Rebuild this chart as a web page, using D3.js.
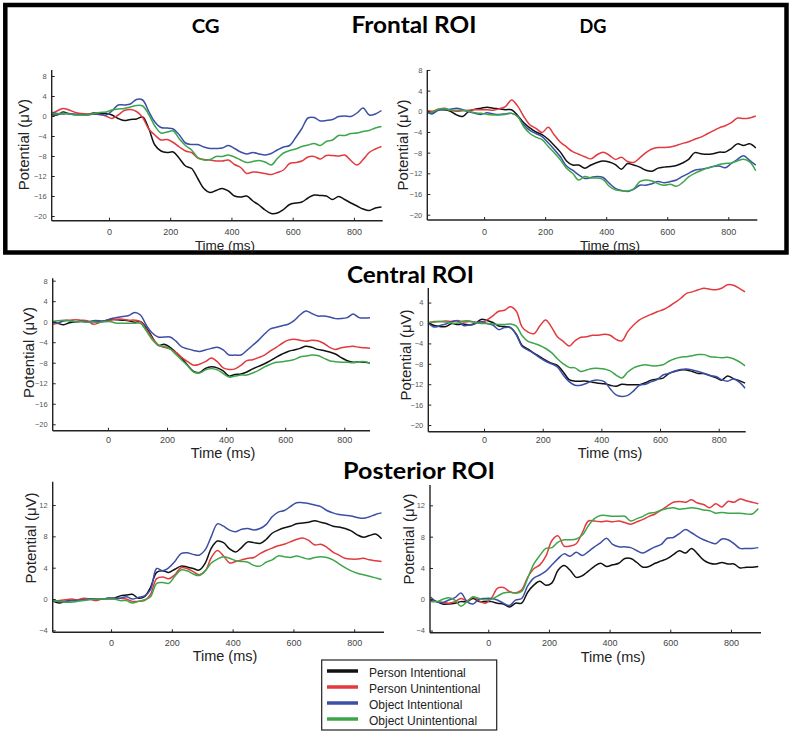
<!DOCTYPE html>
<html><head><meta charset="utf-8">
<script src="https://cdn.jsdelivr.net/npm/d3@7"></script>
<style>body{margin:0;background:#fff}svg{display:block}</style>
</head><body><svg id="c" width="795" height="735"></svg>
<script>
// ---------- DATA ----------
const times = [-190,-170,-150,-130,-110,-90,-70,-50,-30,-10,
  10,30,50,70,90,110,130,150,170,190,
  210,230,250,270,290,310,330,350,370,390,
  410,430,450,470,490,510,530,550,570,590,
  610,630,650,670,690,710,730,750,770,790,
  810,830,850,870,890];
const conditions = ["Person Intentional","Person Unintentional","Object Intentional","Object Unintentional"];
const xTicks = [0,200,400,600,800];
const yTicksNeg = [-20,-16,-12,-8,-4,0,4,8];
const yTicksNegShort = [-20,-16,-12,-8,-4,0,4];
const yTicksPos = [-4,0,4,8,12];
const roiTitles = ["Frontal ROI","Central ROI","Posterior ROI"];
const groupTitles = ["CG","DG"];

// Frontal ROI, CG
const frontalCG_PI = [0.3,0.2,0.8,0.4,0.3,0.3,0.3,0.6,0.5,0.5,
  0.2,-0.5,-0.9,-0.7,-0.6,-0.2,-2.5,-5.8,-7.0,-7.3,
  -7.2,-8.5,-10.0,-10.5,-12.5,-14.5,-15.3,-14.9,-14.5,-15.0,
  -16.0,-16.2,-16.0,-17.0,-17.8,-18.8,-19.5,-19.4,-18.7,-17.7,
  -17.4,-17.2,-16.4,-15.8,-15.9,-16.0,-16.7,-16.1,-16.7,-17.4,
  -18.0,-18.6,-18.9,-18.4,-18.2];
const frontalCG_PU = [0.3,1.0,1.5,1.2,0.7,0.5,0.4,0.4,0.3,0.0,
  -0.5,0.2,1.1,1.3,0.9,-0.3,-2.6,-3.8,-4.8,-4.7,
  -5.3,-6.2,-7.0,-7.3,-8.4,-8.7,-8.8,-9.0,-9.0,-8.8,
  -9.7,-10.3,-11.5,-11.2,-11.3,-11.5,-11.7,-11.3,-10.8,-9.5,
  -9.3,-9.0,-8.2,-8.1,-8.6,-7.9,-7.9,-8.0,-7.8,-8.9,
  -9.8,-8.7,-7.3,-6.6,-6.1];
const frontalCG_OI = [0.8,0.5,0.4,0.5,0.3,0.3,0.2,0.4,0.3,0.2,
  1.0,2.2,2.2,2.4,3.3,3.2,0.9,-1.2,-2.3,-2.4,
  -2.6,-3.8,-5.4,-5.7,-5.7,-6.2,-6.5,-6.5,-6.4,-5.9,
  -6.5,-7.2,-7.6,-7.3,-7.6,-7.8,-7.5,-6.8,-6.2,-5.9,
  -4.3,-2.5,-0.4,-0.3,-1.0,-0.9,-0.7,-0.1,0.0,-0.1,
  0.6,1.6,0.2,0.4,1.1];
const frontalCG_OU = [0.5,0.4,0.6,0.4,0.2,0.2,0.2,0.5,0.7,0.8,
  1.2,1.4,1.5,1.8,2.1,2.0,0.3,-2.0,-3.4,-3.2,
  -3.0,-4.6,-5.9,-6.8,-8.3,-8.8,-8.7,-8.1,-8.1,-7.8,
  -8.2,-8.8,-9.3,-9.1,-8.9,-9.2,-9.8,-8.5,-7.4,-6.9,
  -6.6,-6.1,-5.8,-5.5,-5.9,-5.1,-4.8,-3.9,-3.9,-3.5,
  -3.4,-3.1,-2.9,-2.4,-2.1];

// Frontal ROI, DG
const frontalDG_PI = [-0.1,-0.3,0.3,0.3,0.0,-0.7,-1.0,0.0,0.4,0.6,
  0.8,0.6,0.5,0.3,0.3,-0.8,-2.2,-3.2,-4.0,-4.5,
  -5.4,-6.6,-7.9,-9.6,-10.4,-10.4,-11.0,-10.4,-9.9,-9.6,
  -9.8,-10.3,-11.2,-10.1,-10.4,-10.8,-11.4,-11.6,-11.0,-10.8,
  -10.7,-10.5,-10.0,-9.3,-8.0,-8.2,-8.3,-8.2,-7.9,-7.9,
  -7.2,-6.3,-6.6,-6.3,-7.1];
const frontalDG_PU = [0.2,0.0,0.4,0.6,0.2,0.0,0.1,0.2,0.3,0.3,
  0.3,0.2,0.5,0.9,2.2,1.0,-1.0,-2.6,-3.3,-4.1,
  -3.1,-4.6,-6.0,-6.9,-7.8,-8.3,-8.8,-9.2,-8.4,-7.9,
  -8.5,-9.3,-8.9,-9.7,-9.9,-9.0,-8.0,-7.3,-7.0,-7.0,
  -6.9,-6.6,-6.2,-5.9,-5.4,-5.0,-4.4,-3.8,-3.2,-2.8,
  -2.2,-1.3,-1.4,-1.3,-0.9];
const frontalDG_OI = [0.0,-0.5,0.2,0.3,0.4,0.6,0.3,-0.1,-0.4,-0.6,
  -0.3,-0.5,-0.6,-0.5,-0.4,-1.0,-2.6,-3.7,-4.3,-4.9,
  -6.1,-7.4,-8.8,-10.6,-11.4,-12.3,-13.0,-12.8,-12.6,-12.8,
  -13.9,-14.9,-15.3,-15.5,-15.1,-14.3,-14.3,-14.0,-13.6,-13.8,
  -13.6,-13.3,-12.6,-12.0,-11.4,-11.2,-11.0,-10.7,-10.6,-10.9,
  -10.1,-9.3,-8.6,-9.5,-10.4];
const frontalDG_OU = [0.0,-0.2,0.4,0.5,0.2,0.2,0.2,0.0,-0.3,-0.4,
  -0.6,-0.7,-0.7,-0.6,-0.4,-1.0,-3.0,-4.3,-5.0,-5.5,
  -6.8,-8.0,-9.4,-11.0,-12.0,-13.3,-12.6,-12.9,-12.9,-13.2,
  -14.5,-15.2,-15.4,-15.4,-15.0,-13.6,-13.3,-13.5,-14.0,-14.3,
  -14.1,-14.5,-13.8,-12.7,-12.0,-11.5,-11.0,-10.7,-10.3,-10.1,
  -10.0,-9.6,-9.3,-9.8,-11.5];

// Central ROI, CG
const centralCG_PI = [0.0,-0.3,-0.6,-0.2,0.0,0.1,0.0,0.0,0.0,0.2,
  0.5,0.4,0.3,0.2,-0.1,0.0,-1.2,-3.0,-4.6,-4.4,
  -5.0,-6.0,-7.1,-8.5,-9.7,-9.9,-9.1,-8.8,-9.0,-9.6,
  -10.6,-10.3,-10.2,-9.8,-9.2,-8.7,-8.2,-7.6,-6.9,-6.3,
  -5.8,-5.5,-5.2,-4.8,-5.0,-5.4,-5.6,-5.9,-6.3,-7.0,
  -7.6,-7.9,-7.8,-7.9,-8.1];
const centralCG_PU = [-0.5,-0.3,0.2,0.3,0.4,0.3,0.2,-0.5,-0.2,0.2,
  0.3,0.5,0.5,0.3,0.3,0.0,-1.5,-3.2,-4.5,-5.0,
  -5.3,-6.0,-7.0,-7.8,-8.5,-8.3,-7.8,-7.1,-7.8,-9.0,
  -9.3,-9.2,-8.5,-7.6,-7.4,-7.0,-6.5,-5.7,-5.0,-4.2,
  -3.6,-3.4,-3.6,-3.8,-3.6,-3.7,-4.2,-5.0,-5.4,-5.1,
  -4.9,-4.8,-5.0,-5.1,-5.2];
const centralCG_OI = [0.0,-0.3,0.2,0.2,0.0,0.1,0.0,0.2,0.2,0.1,
  0.6,0.8,1.0,1.2,1.8,1.3,-0.7,-2.2,-3.0,-3.0,
  -3.0,-3.8,-4.9,-5.3,-5.6,-5.8,-5.5,-5.2,-5.0,-5.5,
  -6.5,-6.5,-6.5,-5.6,-4.6,-3.6,-2.4,-1.4,-1.1,-0.8,
  -0.5,0.2,1.3,2.1,1.6,1.1,1.1,0.9,0.6,0.6,
  0.8,1.5,0.8,0.7,0.8];
const centralCG_OU = [0.0,0.2,0.3,0.2,0.0,0.0,-0.1,0.0,-0.1,0.0,
  0.0,-0.3,-0.3,-0.3,-0.3,-0.3,-1.8,-3.5,-4.6,-4.8,
  -5.3,-6.4,-7.5,-8.6,-9.8,-10.0,-9.4,-9.1,-9.4,-10.1,
  -10.8,-10.6,-10.4,-10.4,-10.0,-9.5,-8.8,-8.3,-7.9,-7.8,
  -7.6,-7.4,-6.9,-6.7,-6.5,-6.6,-7.1,-7.6,-7.8,-7.9,
  -7.9,-8.0,-7.8,-7.8,-8.2];

// Central ROI, DG
const centralDG_PI = [0.0,-0.5,-0.7,-0.7,-0.1,-0.3,-0.2,-0.4,-0.1,0.7,
  0.5,0.1,-0.6,-0.7,-0.9,-2.2,-4.4,-5.1,-5.9,-6.6,
  -7.3,-7.9,-8.3,-9.6,-11.1,-11.4,-11.4,-11.4,-11.6,-11.8,
  -11.9,-12.2,-12.4,-12.0,-12.1,-12.1,-12.1,-11.7,-11.2,-11.0,
  -10.8,-9.9,-9.5,-9.2,-9.2,-9.5,-9.9,-9.9,-10.3,-10.7,
  -11.2,-10.4,-10.9,-11.3,-11.8];
const centralDG_PU = [0.0,0.3,0.3,0.4,0.3,0.5,0.2,0.3,0.2,0.0,
  0.6,1.4,2.3,2.5,3.2,2.3,-0.8,-1.8,-2.1,-0.6,
  0.6,-0.8,-2.7,-3.6,-4.5,-3.5,-2.8,-2.7,-2.4,-2.4,
  -2.2,-2.4,-3.2,-3.5,-1.7,-0.4,0.6,1.2,1.7,2.2,
  2.6,3.2,4.0,4.8,5.8,6.1,6.5,6.8,6.6,6.5,
  6.8,7.5,7.4,6.8,6.1];
const centralDG_OI = [0.0,-0.8,-0.5,-0.2,0.3,0.4,-0.5,-0.4,-0.1,0.3,
  -0.1,-0.4,-1.3,-0.9,-0.9,-2.3,-4.6,-5.3,-6.0,-6.8,
  -7.5,-8.0,-8.6,-10.2,-11.5,-12.2,-12.2,-11.8,-11.3,-11.2,
  -11.5,-12.9,-14.1,-14.4,-14.2,-13.3,-12.2,-12.0,-11.5,-11.1,
  -10.2,-9.9,-9.4,-9.1,-9.0,-9.2,-9.5,-9.9,-10.3,-10.5,
  -11.1,-11.4,-11.0,-11.6,-12.8];
const centralDG_OU = [0.1,0.2,0.3,0.2,0.0,0.0,0.4,0.4,0.1,-0.1,
  -0.1,-0.2,-0.3,-0.3,-0.2,-0.6,-2.5,-3.6,-4.0,-4.4,
  -5.0,-5.8,-7.0,-8.0,-8.7,-8.8,-9.5,-9.2,-8.9,-8.9,
  -9.0,-9.4,-10.2,-10.8,-9.6,-8.8,-8.4,-8.2,-8.4,-8.4,
  -8.2,-7.5,-7.0,-6.7,-6.6,-6.4,-6.2,-6.2,-6.6,-6.7,
  -6.8,-6.7,-7.0,-7.6,-8.4];

// Posterior ROI, CG
const posteriorCG_PI = [-0.3,-0.5,-0.3,-0.2,-0.2,-0.1,0.0,0.0,0.0,0.1,
  0.1,0.4,0.5,0.6,0.1,0.3,1.5,3.4,3.6,3.4,
  3.8,4.2,4.1,3.9,3.7,4.6,6.5,7.4,7.2,6.4,
  6.0,6.6,7.3,7.2,7.1,7.6,8.4,8.8,9.1,9.3,
  9.6,9.7,9.8,10.0,9.8,9.6,9.3,9.2,9.0,8.7,
  8.2,7.9,8.1,8.3,7.7];
const posteriorCG_PU = [-0.3,-0.2,-0.1,0.0,-0.1,0.1,0.0,-0.2,0.0,0.0,
  0.0,0.1,0.0,-0.3,-0.3,-0.2,0.6,2.6,2.8,2.6,
  3.1,4.0,3.9,3.5,3.1,3.6,5.3,6.2,5.5,4.6,
  4.8,5.0,5.2,5.3,5.8,6.2,6.5,6.8,7.0,7.3,
  7.6,7.8,7.5,6.9,7.0,6.6,6.0,5.6,5.2,5.1,
  5.1,5.2,5.0,4.9,4.8];
const posteriorCG_OI = [-0.3,-0.3,-0.3,-0.2,-0.2,-0.1,0.0,0.0,0.0,0.1,
  0.1,0.1,0.3,0.0,0.2,0.4,1.2,3.9,3.6,4.0,
  4.8,5.8,5.9,5.7,5.6,6.3,8.0,9.6,9.3,8.8,
  8.6,8.9,9.0,8.8,9.0,9.5,10.5,11.1,11.3,11.8,
  12.3,12.3,12.2,12.0,11.8,11.3,11.0,10.8,10.7,10.6,
  10.4,10.3,10.5,10.8,11.0];
const posteriorCG_OU = [-0.2,-0.3,-0.4,-0.4,-0.3,-0.2,-0.1,0.0,0.0,0.0,
  0.0,-0.2,-0.2,-0.5,-0.3,-0.1,0.3,2.0,2.1,2.0,
  2.9,3.7,3.6,3.2,3.0,3.6,4.6,5.1,5.4,5.2,
  4.9,4.8,4.7,4.3,4.2,4.7,5.0,5.5,5.4,5.3,
  5.5,5.3,5.1,5.3,5.4,5.3,5.0,4.5,4.0,3.6,
  3.3,3.1,2.9,2.7,2.5];

// Posterior ROI, DG
const posteriorDG_PI = [-0.1,-0.3,-0.6,-0.6,-0.5,-0.3,-0.3,0.1,-0.3,-0.3,
  -0.3,-0.5,-0.6,-1.0,-0.5,-0.5,0.9,1.8,2.3,1.8,
  2.1,3.7,4.3,3.7,2.8,3.0,3.6,4.2,4.6,4.2,
  4.4,4.6,5.2,5.2,4.7,4.1,4.2,4.6,4.9,5.2,
  5.7,6.2,5.9,6.5,5.8,5.0,4.6,4.5,4.7,4.5,
  4.5,4.0,4.1,4.1,4.2];
const posteriorDG_PU = [0.0,-0.3,-0.4,-0.5,-0.3,0.1,-0.2,0.3,-0.2,-0.5,
  0.1,1.4,1.5,1.0,0.8,1.2,2.8,3.9,4.4,5.5,
  7.5,8.1,6.8,6.8,7.1,8.5,10.0,10.0,9.9,10.0,
  9.9,10.0,9.8,9.6,9.9,10.2,10.6,10.9,11.4,11.9,
  12.4,12.5,12.4,12.7,12.3,12.1,11.7,12.2,11.8,12.5,
  12.4,12.8,12.6,12.4,12.2];
const posteriorDG_OI = [0.3,-0.3,-0.4,-0.1,0.2,0.8,-0.3,-0.6,0.0,0.1,
  0.1,-0.1,-0.5,-0.8,-0.1,0.1,1.7,2.7,3.1,3.6,
  4.4,5.2,5.8,5.5,6.0,5.6,6.1,6.7,7.2,7.8,
  7.0,6.7,6.7,6.6,6.2,5.9,6.3,6.7,7.0,7.8,
  7.9,8.4,8.9,8.5,8.0,7.6,7.3,7.1,7.7,7.6,
  7.1,6.5,6.5,6.5,6.6];
const posteriorDG_OU = [-0.3,-0.3,0.0,0.2,-0.1,-0.9,-0.3,0.3,0.1,-0.1,
  0.0,0.4,0.8,0.9,0.8,1.0,2.7,4.5,5.6,6.5,
  6.6,7.3,7.6,7.6,7.7,8.2,9.4,10.3,10.7,10.7,
  10.6,10.6,10.6,10.0,10.3,10.6,11.0,11.1,11.4,11.6,
  11.7,11.5,11.6,11.7,11.6,11.4,11.3,11.0,11.1,11.0,
  11.0,11.0,10.9,10.9,11.6];

// ---------- LAYOUT / STYLE ----------
const colors = ["#111111","#e23a3f","#3c4fa6","#3da64a"];
const panels = [
  {series:[frontalCG_PI,frontalCG_PU,frontalCG_OI,frontalCG_OU], xr:[51.7,382.7], xd:[-187,894], yr:[220.7,70], yd:[-20.94,9.2], yt:yTicksNeg, xtY:231.8, ylab:[23.3,144.7], xlab:[225,245.5], xlabSize:13.5},
  {series:[frontalDG_PI,frontalDG_PU,frontalDG_OI,frontalDG_OU], xr:[427.3,757.3], xd:[-186,895], yr:[220,70], yd:[-21.03,7.99], yt:yTicksNeg, xtY:231.8, ylab:[402,145], xlab:[610,245.5], xlabSize:13.5},
  {series:[centralCG_PI,centralCG_PU,centralCG_OI,centralCG_OU], xr:[52.7,370], xd:[-187,887], yr:[430.7,278.3], yd:[-21.25,8.46], yt:yTicksNeg, xtY:440, ylab:[28,352.5], xlab:[223,453], xlabSize:14.5},
  {series:[centralDG_PI,centralDG_PU,centralDG_OI,centralDG_OU], xr:[428.3,745.7], xd:[-190,892], yr:[431.7,288], yd:[-21.31,6.86], yt:yTicksNegShort, xtY:440, ylab:[405,355], xlab:[610,453], xlabSize:14.5},
  {series:[posteriorCG_PI,posteriorCG_PU,posteriorCG_OI,posteriorCG_OU], xr:[52.7,384], xd:[-192,898], yr:[632.3,481.7], yd:[-4.25,14.98], yt:yTicksPos, xtY:643.3, ylab:[30,538], xlab:[225,655.8], xlabSize:14.5},
  {series:[posteriorDG_PI,posteriorDG_PU,posteriorDG_OI,posteriorDG_OU], xr:[430,761], xd:[-192,899], yr:[632.7,485], yd:[-4.27,14.6], yt:yTicksPos, xtY:642.5, ylab:[408,539], xlab:[613,656.5], xlabSize:14.5}
];

const svg = d3.select("#c");
const AX = "Liberation Sans, Arial, sans-serif";
const TITLE = "Lato, 'Open Sans', sans-serif";

// frame around frontal row
svg.append("rect").attr("x",5.3).attr("y",5).attr("width",781.2).attr("height",247.5)
  .attr("fill","none").attr("stroke","#000").attr("stroke-width",4.5);

// titles
const titlePos = [{x:414,y:33.3,w:125},{x:410.5,y:283.3,w:127},{x:419,y:479,w:152}];
roiTitles.forEach((t,i)=>{
  svg.append("text").attr("x",titlePos[i].x).attr("y",titlePos[i].y).attr("text-anchor","middle")
    .attr("font-family",TITLE).attr("font-weight",700).attr("font-size",23)
    .attr("textLength",titlePos[i].w).attr("lengthAdjust","spacingAndGlyphs").attr("fill","#000").text(t);
});
const groupPos = [{x:205.7,y:33,w:28},{x:593,y:33,w:27}];
groupTitles.forEach((t,i)=>{
  svg.append("text").attr("x",groupPos[i].x).attr("y",groupPos[i].y).attr("text-anchor","middle")
    .attr("font-family",TITLE).attr("font-weight",700).attr("font-size",18)
    .attr("textLength",groupPos[i].w).attr("lengthAdjust","spacingAndGlyphs").attr("fill","#000").text(t);
});

const defs = svg.append("defs");
panels.forEach((p,pi)=>{
  const x = d3.scaleLinear().domain(p.xd).range(p.xr);
  const y = d3.scaleLinear().domain(p.yd).range(p.yr);
  const g = svg.append("g");
  const clipId = "clip"+pi;
  defs.append("clipPath").attr("id",clipId).append("rect")
    .attr("x",p.xr[0]).attr("y",p.yr[1]-20).attr("width",p.xr[1]-p.xr[0]).attr("height",p.yr[0]-p.yr[1]+20);

  // lines
  const line = d3.line().x((d,i)=>x(times[i])).y(d=>y(d)).curve(d3.curveCatmullRom.alpha(0.5));
  const lg = g.append("g").attr("clip-path",`url(#${clipId})`);
  p.series.forEach((s,si)=>{
    lg.append("path").datum(s).attr("d",line).attr("fill","none")
      .attr("stroke",colors[si]).attr("stroke-width",1.5).attr("stroke-linejoin","round");
  });

  // y axis (ticks inward)
  const ya = g.append("g").attr("transform",`translate(${p.xr[0]},0)`)
    .call(d3.axisRight(y).tickValues(p.yt).tickSize(3).tickFormat(d3.format("d")));
  ya.select(".domain").attr("d",`M0,${p.yr[1]}V${p.yr[0]}`).attr("stroke","#222").attr("stroke-width",1.4);
  ya.selectAll(".tick line").attr("stroke","#222");
  ya.selectAll(".tick text").attr("x",-5).attr("text-anchor","end").attr("fill","#555")
    .attr("font-family",AX).attr("font-size",7.5);

  // x axis (ticks inward)
  const xa = g.append("g").attr("transform",`translate(0,${p.yr[0]})`)
    .call(d3.axisTop(x).tickValues(xTicks).tickSize(3).tickFormat(d3.format("d")));
  xa.select(".domain").attr("d",`M${p.xr[0]},0H${p.xr[1]}`).attr("stroke","#222").attr("stroke-width",1.4);
  xa.selectAll(".tick line").attr("stroke","#222");
  xa.selectAll(".tick text").attr("y",p.xtY-p.yr[0]).attr("dy","0.35em").attr("fill","#444")
    .attr("font-family",AX).attr("font-size",9);

  // labels
  g.append("text").attr("transform",`translate(${p.ylab[0]},${p.ylab[1]}) rotate(-90)`)
    .attr("text-anchor","middle").attr("dominant-baseline","central")
    .attr("font-family",AX).attr("font-size",15).attr("fill","#222").text("Potential (\u03bcV)");
  g.append("text").attr("x",p.xlab[0]).attr("y",p.xlab[1]).attr("text-anchor","middle")
    .attr("dominant-baseline","central").attr("font-family",AX).attr("font-size",p.xlabSize)
    .attr("fill","#222").text("Time (ms)");
});

// legend
const leg = svg.append("g");
leg.append("rect").attr("x",321.7).attr("y",660).attr("width",175).attr("height",70)
  .attr("fill","#fff").attr("stroke","#222").attr("stroke-width",1.2);
conditions.forEach((c,i)=>{
  const yy = 671 + i*16;
  leg.append("line").attr("x1",327).attr("x2",358).attr("y1",yy).attr("y2",yy)
    .attr("stroke",colors[i]).attr("stroke-width",3.5);
  leg.append("text").attr("x",369).attr("y",yy+2).attr("dominant-baseline","central")
    .attr("font-family",AX).attr("font-size",12).attr("fill","#222").text(c);
});
</script></body></html>
